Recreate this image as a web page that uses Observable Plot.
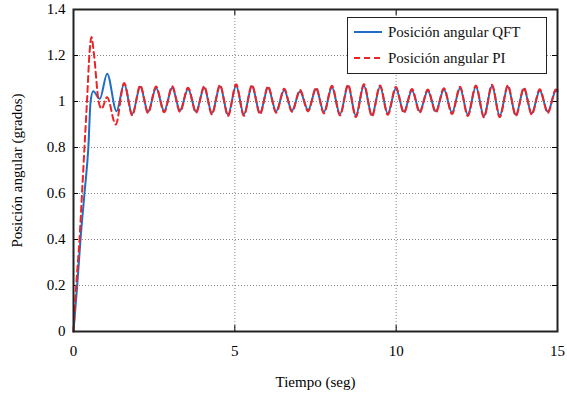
<!DOCTYPE html>
<html>
<head>
<meta charset="utf-8">
<script src="https://cdn.jsdelivr.net/npm/d3@7"></script>
<script src="https://cdn.jsdelivr.net/npm/@observablehq/plot@0.6"></script>
<style>
  body { margin: 0; background: white; }
  #chart { position: relative; width: 567px; height: 402px; }
  #chart svg, #chart svg text { font-family: "Times New Roman", "Liberation Serif", "DejaVu Serif", serif !important; }
  #legend {
    position: absolute; left: 347px; top: 17px; width: 198px; height: 55px;
    border: 1.5px solid #222; background: white;
    font-family: "Times New Roman", "Liberation Serif", "DejaVu Serif", serif; font-size: 15px; color: #111;
  }
  #legend .row { position: absolute; left: 6px; height: 20px; display: flex; align-items: center; }
  #legend svg { margin-right: 6px; }
</style>
</head>
<body>
<div id="chart"></div>
<script>
// tick values
const xTicks = [0, 5, 10, 15];
const yTicks = [0, 0.2, 0.4, 0.6, 0.8, 1, 1.2, 1.4];

// transient part
const redRiseT = [0, 0.084, 0.186, 0.264, 0.34, 0.418, 0.496, 0.558, 0.63, 0.78, 0.87, 1.04, 1.31, 1.57];
const redRiseV = [0, 0.2, 0.4, 0.6, 0.8, 1.0, 1.21, 1.28, 1.21, 1.0, 0.968, 1.019, 0.90, 1.08];
const blueRiseT = [0, 0.115, 0.217, 0.34, 0.46, 0.53, 0.61, 0.815, 1.044, 1.333, 1.57];
const blueRiseV = [0, 0.2, 0.4, 0.6, 0.8, 1.0, 1.045, 1.012, 1.121, 0.958, 1.077];

// steady oscillation: troughs and peaks (shared times)
const oscT = [1.82, 2.07, 2.31, 2.56, 2.81, 3.06, 3.30, 3.55, 3.80, 4.05, 4.29, 4.54, 4.79, 5.04, 5.28, 5.53,
  5.78, 6.03, 6.28, 6.53, 6.77, 7.02, 7.27, 7.52, 7.76, 8.01, 8.26, 8.51, 8.75, 9.00, 9.25, 9.50, 9.74, 9.99,
  10.24, 10.49, 10.73, 10.98, 11.23, 11.48, 11.73, 11.98, 12.22, 12.47, 12.72, 12.97, 13.21, 13.46, 13.71,
  13.96, 14.20, 14.45, 14.70, 14.95, 15.0];
const redOsc = [0.94, 1.07, 0.95, 1.065, 0.953, 1.066, 0.955, 1.06, 0.951, 1.066, 0.944, 1.072, 0.937, 1.075, 0.938, 1.072,
  0.945, 1.066, 0.951, 1.055, 0.955, 1.05, 0.957, 1.06, 0.948, 1.068, 0.939, 1.073, 0.933, 1.075, 0.935, 1.07, 0.942, 1.063,
  0.95, 1.054, 0.952, 1.052, 0.952, 1.058, 0.946, 1.064, 0.937, 1.07, 0.931, 1.073, 0.932, 1.07, 0.937,
  1.06, 0.943, 1.053, 0.95, 1.052, 1.05];
const blueOsc = [0.946, 1.064, 0.956, 1.059, 0.959, 1.06, 0.961, 1.054, 0.957, 1.06, 0.95, 1.066, 0.943, 1.069, 0.944, 1.066,
  0.951, 1.06, 0.957, 1.049, 0.961, 1.044, 0.963, 1.054, 0.954, 1.062, 0.945, 1.067, 0.939, 1.069, 0.941, 1.064, 0.948, 1.057,
  0.956, 1.048, 0.958, 1.046, 0.958, 1.052, 0.952, 1.058, 0.943, 1.064, 0.937, 1.067, 0.938, 1.064, 0.943,
  1.054, 0.949, 1.047, 0.956, 1.046, 1.044];

const blueColor = "#1f6ec4";
const redColor = "#ec2327";

function series(riseT, riseV, osc) {
  const rows = riseT.map((t, i) => ({t, v: riseV[i]}));
  oscT.forEach((t, i) => rows.push({t, v: osc[i]}));
  return rows;
}
const qftData = series(blueRiseT, blueRiseV, blueOsc);
const piData = series(redRiseT, redRiseV, redOsc);

const plot = Plot.plot({
  width: 567,
  height: 402,
  marginLeft: 73,
  marginRight: 10,
  marginTop: 9,
  marginBottom: 71,
  style: {fontFamily: "'Times New Roman', 'Liberation Serif', serif", fontSize: "15px", color: "black", background: "white"},
  x: {domain: [0, 15]},
  y: {domain: [0, 1.4]},
  marks: [
    Plot.gridX(xTicks.slice(1, -1), {stroke: "#888", strokeOpacity: 1, strokeDasharray: "1,2"}),
    Plot.gridY(yTicks.slice(1, -1), {stroke: "#888", strokeOpacity: 1, strokeDasharray: "1,2"}),
    Plot.axisX(xTicks, {tickSize: 0, tickPadding: 14, label: "Tiempo (seg)", labelAnchor: "center", labelArrow: "none", labelOffset: 55}),
    Plot.axisY(yTicks, {tickSize: 0, tickPadding: 8, tickFormat: d3.format("~g"), label: "Posición angular (grados)", labelAnchor: "center", labelArrow: "none", labelOffset: 62}),
    // inward ticks on all four sides
    Plot.tickX(xTicks, {x: d => d, stroke: "black", insetTop: 316}),
    Plot.tickX(xTicks, {x: d => d, stroke: "black", insetBottom: 316}),
    Plot.tickY(yTicks, {y: d => d, stroke: "black", insetRight: 479}),
    Plot.tickY(yTicks, {y: d => d, stroke: "black", insetLeft: 479}),
    Plot.line(qftData, {x: "t", y: "v", stroke: blueColor, strokeWidth: 2, curve: "monotone-x"}),
    Plot.line(piData, {x: "t", y: "v", stroke: redColor, strokeWidth: 2, strokeDasharray: "6,4", curve: "monotone-x"}),
    Plot.frame({stroke: "#222", strokeWidth: 2})
  ]
});

const chart = document.getElementById("chart");
chart.append(plot);

const legend = document.createElement("div");
legend.id = "legend";
legend.innerHTML = `
  <div class="row" style="top:4px"><svg width="28" height="4"><line x1="0" y1="2" x2="28" y2="2" stroke="${blueColor}" stroke-width="2"/></svg>Posición angular QFT</div>
  <div class="row" style="top:30px"><svg width="28" height="4"><line x1="0" y1="2" x2="28" y2="2" stroke="${redColor}" stroke-width="2" stroke-dasharray="6,4"/></svg>Posición angular PI</div>`;
chart.append(legend);
</script>
</body>
</html>
